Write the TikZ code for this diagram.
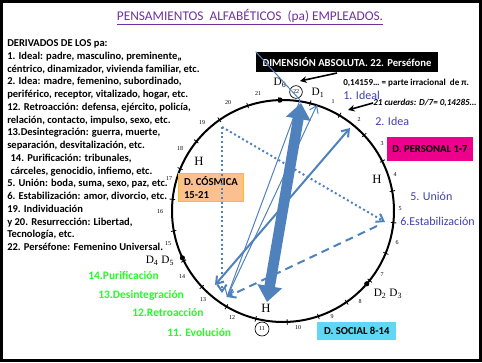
\documentclass[tikz,border=0pt]{standalone}
\usepackage{fontspec}
\setmainfont{Carlito}
\newfontfamily\timesf{Liberation Serif}
\usetikzlibrary{arrows.meta,calc,positioning}
\usepackage{xcolor}

\definecolor{pablue}{RGB}{79,129,189}
\definecolor{titlepurple}{RGB}{112,48,160}
\definecolor{stepblue}{RGB}{64,64,170}
\definecolor{stepgreen}{RGB}{40,250,40}
\definecolor{cosmicfill}{RGB}{250,192,144}
\definecolor{cosmicedge}{RGB}{255,192,0}
\definecolor{socialfill}{RGB}{95,215,245}

\tikzset{
  derivlist/.style={align=left, inner sep=0pt, font=\fontsize{7.9}{9.56}\selectfont\bfseries},
  numlbl/.style={inner sep=0pt, font=\timesf\fontsize{4.5}{5}\selectfont},
  dlbl/.style={inner sep=0pt, font=\timesf\fontsize{8.5}{9}\selectfont},
  steplbl/.style={anchor=west, inner sep=0pt, text=stepblue, font=\fontsize{9}{10}\selectfont},
  greenlbl/.style={anchor=west, inner sep=0pt, text=stepgreen, font=\fontsize{8.6}{10}\selectfont\bfseries},
  notelbl/.style={anchor=west, inner sep=0pt, font=\fontsize{6.8}{8}\selectfont\bfseries},
  dimbox/.style={inner sep=0pt, font=\fontsize{8}{9.5}\selectfont\bfseries},
  thinblue/.style={draw=pablue, line width=0.75pt},
  midblue/.style={draw=pablue, line width=1.5pt},
  barb/.style={-{Straight Barb[length=5pt,width=7pt]}},
}

\begin{document}
\begin{tikzpicture}[x=0.75pt, y=-0.75pt]
  \useasboundingbox (0,0) rectangle (482,362);
  % frame
  \draw[line width=2.25pt] (1.5,1.5) rectangle (480.5,360.5);

  % title
  \node[font=\fontsize{10}{12}\selectfont, text=titlepurple] (titulo) at (250,17)
    {\underline{PENSAMIENTOS\ \ ALFABÉTICOS\ \ (pa) EMPLEADOS.}};

  % list of derived meanings
  \node[derivlist, anchor=north west] (derivados) at (7,39.5) {%
    DERIVADOS DE LOS pa:\\
    1. Ideal: padre, masculino, preminente,,\\
    céntrico, dinamizador, vivienda familiar, etc.\\
    2. Idea: madre, femenino, subordinado,\\
    periférico, receptor, vitalizado, hogar, etc.\\
    12. Retroacción: defensa, ejército, policía,\\
    relación, contacto, impulso, sexo, etc.\\
    13.Desintegración: guerra, muerte,\\
    separación, desvitalización, etc.\\
    \hspace*{2.5pt}14. Purificación: tribunales,\\
    \hspace*{2.5pt}cárceles, genocidio, infiemo, etc.\\
    5. Unión: boda, suma, sexo, paz, etc.\\
    6. Estabilización: amor, divorcio, etc.\\
    19. Individuación\\
    y 20. Resurrección: Libertad,\\
    Tecnología, etc.\\
    22. Perséfone: Femenino Universal.};

  % circle of the 22 chords
  \coordinate (c) at (283,211);
  \draw[line width=1.5pt] (c) circle (111);
  \foreach \a in {0,...,21}
    \draw[line width=0.6pt] ($(c)+({16.3636*\a-75.8}:108.5)$) -- ($(c)+({16.3636*\a-75.8}:114)$);
  \fill ($(c)+(-91.5:111)$) circle (2.6);
  \fill ($(c)+(41:111)$) circle (2.6);
  \fill ($(c)+(155:111)$) circle (2.6);

  % numbers round the circle
  \foreach \n/\x/\y in {1/333/102, 2/359/120, 3/382/144, 4/395/175, 5/400/209,
      6/397/243, 7/382/275, 8/360/302, 9/332/317, 10/298/328, 12/232/318,
      13/203/300, 14/182/277, 15/168/244, 16/160/212, 17/169/179, 18/180/149,
      19/202/123, 20/228/103, 21/258/94}
    \node[numlbl] (n\n) at (\x,\y) {\n};
  \node[numlbl, circle, draw, line width=0.5pt, minimum size=9.5pt] (n22) at (296,92) {22};
  \node[numlbl, circle, draw, line width=0.5pt, minimum size=10.5pt] (n11) at (262,329) {11};

  % D and H labels
  \node[dlbl] (d6) at (280,83) {D\textsubscript{6}};
  \node[dlbl] (d1) at (318,93) {D\textsubscript{1}};
  \node[dlbl] (d23) at (388,294) {D\textsubscript{2} D\textsubscript{3}};
  \node[dlbl] (d45) at (160,261) {D\textsubscript{4} D\textsubscript{5}};
  \node[dlbl, font=\timesf\fontsize{9.5}{10}\selectfont] (hleft) at (199,161) {H};
  \node[dlbl, font=\timesf\fontsize{9.5}{10}\selectfont] (hright) at (377,179) {H};
  \node[dlbl, font=\timesf\fontsize{9.5}{10}\selectfont] (hlow) at (266,308) {H};

  % boxes
  \node[dimbox, fill=black, text=white, minimum width=136.5pt, minimum height=15pt] (absoluta) at (347,62)
    {DIMENSIÓN ABSOLUTA. 22. Perséfone};
  \node[dimbox, fill=magenta, minimum width=64.5pt, minimum height=18pt] (personal) at (430,149)
    {D. PERSONAL 1-7};
  \node[dimbox, fill=cosmicfill, draw=cosmicedge, line width=0.75pt, align=left, anchor=north west,
    minimum width=48.75pt, minimum height=21pt, inner xsep=3.2pt, inner ysep=2pt] (cosmica) at (178,173)
    {D. CÓSMICA\\15-21};
  \node[dimbox, fill=socialfill, anchor=west, minimum width=59.25pt, minimum height=13.5pt,
    inner xsep=3.5pt] (social) at (317,331) {D. SOCIAL 8-14};

  % notes right
  \node[notelbl] (pi) at (343,83) {0,14159… = parte irracional\ \ de π.};
  \node[notelbl, font=\fontsize{6.8}{8}\selectfont\bfseries\itshape] (cuerdas) at (373,103) {21 cuerdas: D/7= 0,14285…};
  \node[steplbl] (ideal) at (343,95) {1. Ideal};
  \node[steplbl] (idea) at (375,121) {2. Idea};
  \node[steplbl] (union) at (410,196) {5. Unión};
  \node[steplbl] (estab) at (400,221) {6.Estabilización};

  % green labels
  \node[greenlbl] (purif) at (88,276) {14.Purificación};
  \node[greenlbl] (desint) at (98,295) {13.Desintegración};
  \node[greenlbl] (retro) at (132,313) {12.Retroacción};
  \node[greenlbl] (evol) at (167,333) {11. Evolución};

  % points of the chords
  \coordinate (fatlow) at (267,302);
  \coordinate (fattop) at (301,103);
  \coordinate (midlow) at (215,285);
  \coordinate (midtop) at (350,128);
  \coordinate (thinlow) at (227,297);
  \coordinate (thintop) at (300,100);
  \coordinate (dOne) at (317,105);
  \coordinate (dotcorner) at (222,127);
  \coordinate (dotright) at (385,222);
  \coordinate (dotlow) at (222,293);
  \coordinate (dashstart) at (377,226);

  % fat double arrow
  \draw[pablue, line width=8pt, {Triangle[length=12pt,width=18pt]}-{Triangle[length=12pt,width=18pt]}] (fatlow) -- (fattop);

  % chords
  \draw[midblue, {Straight Barb[length=5pt,width=7pt]}-{Straight Barb[length=5pt,width=7pt]}] (midlow) -- (midtop);
  \draw[thinblue, barb] (absoluta.north west) -- (thintop) -- (thinlow);
  \draw[thinblue, barb] (thinlow) -- (dOne);
  \draw[midblue, barb, dotted] (dotcorner) -- (dotright);
  \draw[midblue, barb, dotted] (dotcorner) -- (dotlow);
  \draw[midblue, barb, dash pattern=on 6pt off 4pt] (dashstart) -- (thinlow);

  % black pointers
  \draw[line width=1.2pt, -{Stealth[length=5pt,width=5pt]}] (337,73) -- (300,81);
  \draw[line width=1.2pt, -{Stealth[length=5pt,width=5pt]}] (cuerdas.west) -- (348,110);
\end{tikzpicture}
\end{document}
